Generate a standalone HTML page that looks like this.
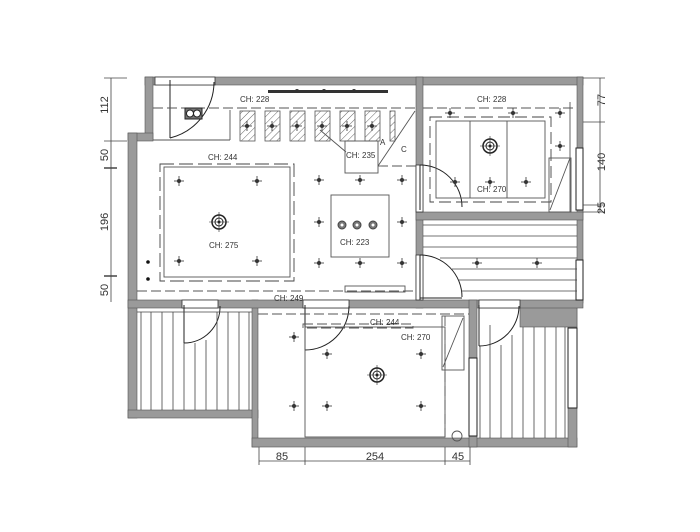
<!DOCTYPE html>
<html><head><meta charset="utf-8"><style>
html,body{margin:0;padding:0;background:#fff;width:700px;height:532px;overflow:hidden}
svg{display:block}
text{font-family:"Liberation Sans",sans-serif;fill:#333}
</style></head><body>
<svg width="700" height="532" viewBox="0 0 700 532" xmlns="http://www.w3.org/2000/svg">
<defs>
<pattern id="h" width="5" height="5" patternUnits="userSpaceOnUse" patternTransform="rotate(45)">
<line x1="0" y1="0" x2="0" y2="5" stroke="#666" stroke-width="1"/></pattern>
<g id="L"><line x1="-5" y1="0" x2="5" y2="0" stroke="#333" stroke-width="0.8"/><line x1="0" y1="-5" x2="0" y2="5" stroke="#333" stroke-width="0.8"/><circle r="2" fill="#333"/></g>
<g id="F"><circle r="7" fill="none" stroke="#222" stroke-width="1.5"/><circle r="4" fill="none" stroke="#222"/><circle r="1.5" fill="#222"/><line x1="-10" y1="0" x2="10" y2="0" stroke="#222" stroke-width="0.6"/><line x1="0" y1="-10" x2="0" y2="10" stroke="#222" stroke-width="0.6"/></g>
</defs>
<g fill="#9a9a9a" stroke="#555" stroke-width="0.6">
<rect x="145" y="77" width="438" height="8"/>
<rect x="145" y="77" width="8" height="63"/>
<rect x="128" y="133" width="25" height="8"/>
<rect x="128" y="133" width="9" height="285"/>
<rect x="128" y="410" width="130" height="8"/>
<rect x="252" y="300" width="6" height="147"/>
<rect x="252" y="438" width="325" height="9"/>
<rect x="577" y="77" width="6" height="226"/>
<rect x="568" y="303" width="9" height="144"/>
<rect x="520" y="303" width="57" height="24"/>
<rect x="416" y="77" width="7" height="231"/>
<rect x="416" y="212" width="167" height="8"/>
<rect x="128" y="300" width="455" height="8"/>
<rect x="469" y="300" width="8" height="147"/>
</g>
<g fill="#fff" stroke="#333" stroke-width="0.8">
<rect x="182" y="300" width="36" height="8"/><rect x="303" y="300" width="46" height="8"/>
<rect x="479" y="300" width="41" height="8"/><rect x="416" y="255" width="7" height="45"/>
<rect x="416" y="165" width="7" height="47"/><rect x="155" y="77" width="60" height="8"/>
</g>
<g fill="none" stroke="#222" stroke-width="1">
<line x1="170" y1="80" x2="170" y2="138"/><path d="M170 138 A58 58 0 0 0 214 82"/>
<line x1="420" y1="165" x2="420" y2="210"/><path d="M420 165 A42 42 0 0 1 462 207"/>
<line x1="420" y1="255" x2="420" y2="300"/><path d="M420 255 A42 42 0 0 1 462 297"/><line x1="420" y1="298" x2="462" y2="298"/>
<line x1="184" y1="305" x2="184" y2="343"/><path d="M184 343 A36 36 0 0 0 220 306"/>
<line x1="305" y1="305" x2="305" y2="350"/><path d="M305 350 A44 44 0 0 0 349 306"/>
<line x1="479" y1="305" x2="479" y2="346"/><path d="M479 346 A40 40 0 0 0 519 306"/>
<rect x="576" y="148" width="7" height="62" fill="#fff"/>
<rect x="576" y="260" width="7" height="40" fill="#fff"/>
<rect x="568" y="328" width="9" height="80" fill="#fff"/>
<rect x="469" y="358" width="8" height="78" fill="#fff"/>
</g>
<g stroke="#444" stroke-width="0.8">
<line x1="137" y1="312" x2="252" y2="312"/>
<line x1="141" y1="312" x2="141" y2="410"/><line x1="151" y1="312" x2="151" y2="410"/><line x1="162" y1="312" x2="162" y2="410"/><line x1="173" y1="312" x2="173" y2="410"/><line x1="184" y1="343" x2="184" y2="410"/><line x1="195" y1="343" x2="195" y2="410"/><line x1="206" y1="340" x2="206" y2="410"/><line x1="217" y1="312" x2="217" y2="410"/><line x1="228" y1="312" x2="228" y2="410"/><line x1="239" y1="312" x2="239" y2="410"/><line x1="249" y1="312" x2="249" y2="410"/>
<line x1="490" y1="325" x2="490" y2="438"/><line x1="501" y1="345" x2="501" y2="438"/><line x1="512" y1="335" x2="512" y2="438"/><line x1="523" y1="327" x2="523" y2="438"/><line x1="534" y1="327" x2="534" y2="438"/><line x1="545" y1="327" x2="545" y2="438"/><line x1="556" y1="327" x2="556" y2="438"/><line x1="565" y1="327" x2="565" y2="438"/><line x1="480" y1="346" x2="480" y2="438"/>
<line x1="423" y1="225" x2="577" y2="225"/><line x1="423" y1="236" x2="577" y2="236"/><line x1="423" y1="247" x2="577" y2="247"/><line x1="440" y1="258" x2="577" y2="258"/><line x1="452" y1="269" x2="577" y2="269"/><line x1="458" y1="280" x2="577" y2="280"/><line x1="461" y1="291" x2="577" y2="291"/>
</g>
<g fill="none" stroke="#555" stroke-width="0.9">
<line x1="153" y1="108" x2="416" y2="108" stroke-dasharray="10,4"/>
<line x1="153" y1="140" x2="230" y2="140"/>
<line x1="230" y1="110" x2="230" y2="140"/>
<line x1="137" y1="291" x2="416" y2="291" stroke-dasharray="10,4"/>
<line x1="378" y1="166" x2="416" y2="166" stroke-dasharray="10,4"/>
<line x1="415" y1="111" x2="378" y2="166"/>
<rect x="345" y="141" width="33" height="32" fill="#fff"/>
<line x1="320" y1="130" x2="346" y2="152"/>
<rect x="164" y="167" width="126" height="110"/>
<rect x="160" y="164" width="134" height="117" stroke-dasharray="14,5" stroke="#444"/>
<rect x="331" y="195" width="58" height="62"/>
<rect x="345" y="286" width="60" height="6"/>
<line x1="423" y1="108" x2="577" y2="108" stroke-dasharray="10,4"/>
<rect x="436" y="121" width="109" height="77"/>
<line x1="470" y1="121" x2="470" y2="198"/><line x1="507" y1="121" x2="507" y2="198"/>
<rect x="430" y="117" width="121" height="85" stroke-dasharray="12,5" stroke="#444"/>
<line x1="570" y1="102" x2="570" y2="212"/>
<rect x="549" y="158" width="22" height="54"/><line x1="570" y1="158" x2="550" y2="210"/>
<line x1="258" y1="314" x2="469" y2="314" stroke-dasharray="10,4"/>
<rect x="305" y="327" width="140" height="110"/>
<rect x="303" y="324" width="110" height="4" stroke-dasharray="10,4"/>
<line x1="445" y1="316" x2="445" y2="437" stroke-dasharray="10,4"/>
<rect x="442" y="316" width="22" height="54"/><line x1="463" y1="318" x2="443" y2="367"/>
<circle cx="457" cy="436" r="5"/>
</g>
<g fill="url(#h)" stroke="#555" stroke-width="0.8">
<rect x="240" y="111" width="15" height="30"/><rect x="265" y="111" width="15" height="30"/><rect x="290" y="111" width="15" height="30"/><rect x="315" y="111" width="15" height="30"/><rect x="340" y="111" width="15" height="30"/><rect x="365" y="111" width="15" height="30"/><rect x="390" y="111" width="5" height="30"/>
</g>
<g fill="#333"><rect x="268" y="90" width="120" height="3"/><circle cx="297" cy="91" r="2"/><circle cx="324" cy="91" r="2"/><circle cx="354" cy="91" r="2"/></g>
<rect x="185" y="108" width="17" height="11" fill="#777" stroke="#222"/><circle cx="190" cy="113.5" r="3.5" fill="#fff" stroke="#222"/><circle cx="197" cy="113.5" r="3.5" fill="#fff" stroke="#222"/>
<use href="#L" x="247" y="126"/><use href="#L" x="272" y="126"/><use href="#L" x="297" y="126"/><use href="#L" x="322" y="126"/><use href="#L" x="347" y="126"/><use href="#L" x="372" y="126"/>
<use href="#L" x="179" y="181"/><use href="#L" x="257" y="181"/><use href="#L" x="179" y="261"/><use href="#L" x="257" y="261"/>
<use href="#L" x="319" y="180"/><use href="#L" x="360" y="180"/><use href="#L" x="402" y="180"/><use href="#L" x="319" y="222"/><use href="#L" x="402" y="222"/><use href="#L" x="319" y="263"/><use href="#L" x="360" y="263"/><use href="#L" x="402" y="263"/>
<use href="#L" x="450" y="113"/><use href="#L" x="513" y="113"/><use href="#L" x="560" y="113"/><use href="#L" x="560" y="146"/><use href="#L" x="455" y="182"/><use href="#L" x="490" y="182"/><use href="#L" x="526" y="182"/>
<use href="#L" x="477" y="263"/><use href="#L" x="537" y="263"/>
<use href="#L" x="294" y="337"/><use href="#L" x="327" y="354"/><use href="#L" x="421" y="354"/><use href="#L" x="294" y="406"/><use href="#L" x="327" y="406"/><use href="#L" x="421" y="406"/>
<use href="#F" x="219" y="222"/><use href="#F" x="490" y="146"/><use href="#F" x="377" y="375"/>
<g fill="#777" stroke="#444"><circle cx="342" cy="225" r="4"/><circle cx="357" cy="225" r="4"/><circle cx="373" cy="225" r="4"/></g>
<g fill="#fff"><circle cx="342" cy="225" r="1.5"/><circle cx="357" cy="225" r="1.5"/><circle cx="373" cy="225" r="1.5"/></g>
<circle cx="148" cy="262" r="1.8" fill="#111"/><circle cx="148" cy="279" r="1.8" fill="#111"/>
<g font-size="8">
<text x="240" y="102">CH: 228</text><text x="208" y="160">CH: 244</text><text x="209" y="248">CH: 275</text>
<text x="340" y="245">CH: 223</text><text x="346" y="158">CH: 235</text><text x="380" y="145">A</text><text x="401" y="152">C</text>
<text x="274" y="301">CH: 249</text><text x="477" y="102">CH: 228</text><text x="477" y="192">CH: 270</text>
<text x="370" y="325">CH: 244</text><text x="401" y="340">CH: 270</text>
</g>
<g stroke="#444" stroke-width="0.8">
<line x1="111" y1="78" x2="111" y2="302"/>
<line x1="104" y1="78" x2="127" y2="78"/><line x1="104" y1="141" x2="127" y2="141"/><line x1="104" y1="168" x2="117" y2="168" stroke-width="1.5"/><line x1="104" y1="276" x2="117" y2="276" stroke-width="1.5"/>
<line x1="600" y1="78" x2="600" y2="212"/>
<line x1="583" y1="78" x2="605" y2="78"/><line x1="583" y1="122" x2="605" y2="122"/><line x1="583" y1="205" x2="605" y2="205"/><line x1="583" y1="212" x2="605" y2="212"/>
<line x1="259" y1="461" x2="470" y2="461"/>
<line x1="259" y1="447" x2="259" y2="465"/><line x1="305" y1="447" x2="305" y2="465"/><line x1="445" y1="447" x2="445" y2="465"/><line x1="470" y1="447" x2="470" y2="465"/>
</g>
<g font-size="11">
<text transform="translate(108,105) rotate(-90)" text-anchor="middle">112</text>
<text transform="translate(108,155) rotate(-90)" text-anchor="middle">50</text>
<text transform="translate(108,222) rotate(-90)" text-anchor="middle">196</text>
<text transform="translate(108,290) rotate(-90)" text-anchor="middle">50</text>
<text transform="translate(605,100) rotate(-90)" text-anchor="middle">77</text>
<text transform="translate(605,162) rotate(-90)" text-anchor="middle">140</text>
<text transform="translate(605,208) rotate(-90)" text-anchor="middle">25</text>
<text x="282" y="460" text-anchor="middle">85</text><text x="375" y="460" text-anchor="middle">254</text><text x="458" y="460" text-anchor="middle">45</text>
</g>
</svg>
</body></html>
